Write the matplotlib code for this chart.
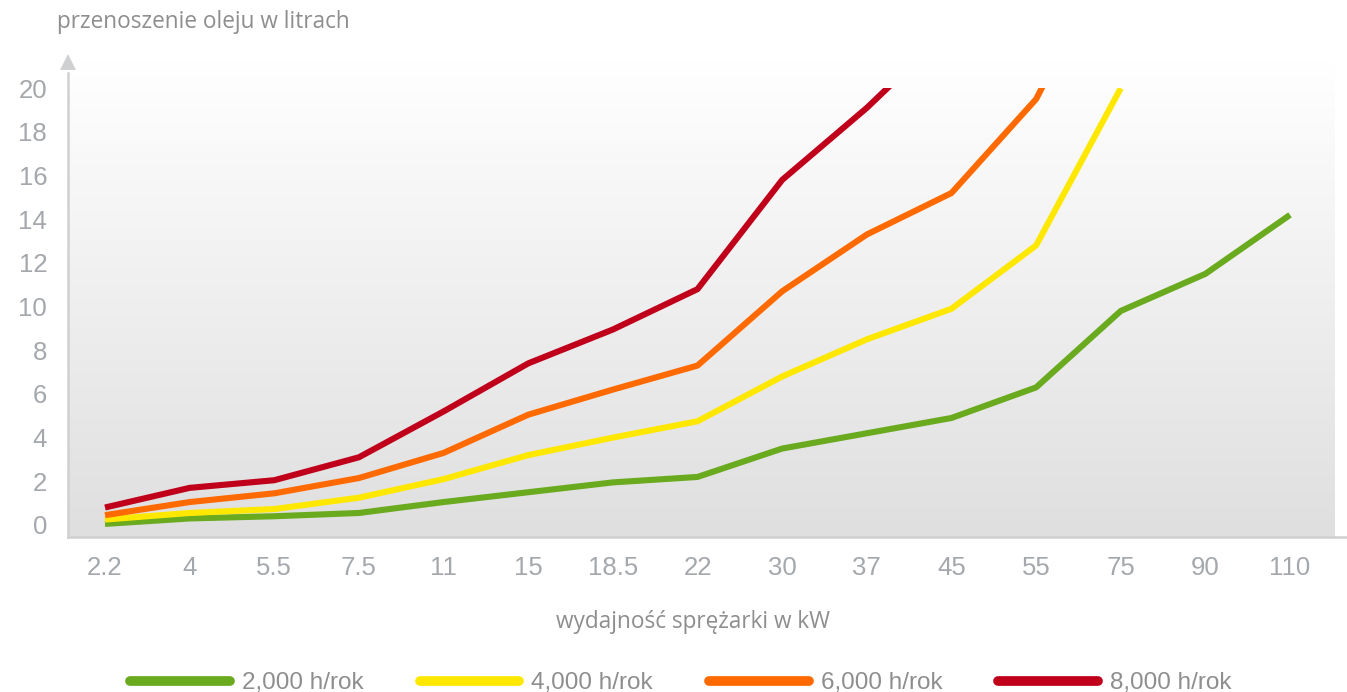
"""Przenoszenie oleju vs moc sprężarki - odtworzenie wykresu."""

import numpy as np
import matplotlib

matplotlib.use("Agg")
import matplotlib.pyplot as plt
from matplotlib.colors import LinearSegmentedColormap
from matplotlib.lines import Line2D
from matplotlib.patches import Rectangle

# kategorie osi X (moc sprężarki w kW)
power_kw = ["2.2", "4", "5.5", "7.5", "11", "15", "18.5", "22", "30", "37", "45", "55", "75", "90", "110"]

# przenoszenie oleju w litrach dla każdej serii (wartości > 20 są ucinane na krawędzi wykresu)
oil_2000 = [0.05, 0.3, 0.4, 0.55, 1.05, 1.5, 1.95, 2.2, 3.5, 4.2, 4.9, 6.3, 9.8, 11.5, 14.2]
oil_4000 = [0.25, 0.55, 0.73, 1.25, 2.1, 3.2, 4.0, 4.75, 6.8, 8.5, 9.9, 12.8, 20.0]
oil_6000 = [0.45, 1.05, 1.45, 2.15, 3.3, 5.05, 6.2, 7.3, 10.7, 13.3, 15.2, 19.5, 27.0]
oil_8000 = [0.8, 1.7, 2.05, 3.1, 5.2, 7.4, 8.95, 10.8, 15.8, 19.1, 22.8]

series = [
    ("2,000 h/rok", oil_2000, "#6aaa1e"),
    ("4,000 h/rok", oil_4000, "#ffe800"),
    ("6,000 h/rok", oil_6000, "#ff6a00"),
    ("8,000 h/rok", oil_8000, "#c0001a"),
]

Y_MAX = 20
TXT = "#a4a8ac"
AXIS = "#cfd0d2"

fig = plt.figure(figsize=(13.47, 6.92), dpi=100)
ax = fig.add_axes([68 / 1347, 1 - 537 / 692, 1 - 68 / 1347, (537 - 62) / 692])

# tło: gradient od białego (góra) do jasnoszarego (dół)
grad = np.linspace(0, 1, 256).reshape(-1, 1)
cmap = LinearSegmentedColormap.from_list("bg", ["#ffffff", "#dfdfdf"])
ax.imshow(grad, cmap=cmap, aspect="auto", extent=[0, (1335 - 68) / (1347 - 68), 0, 1],
          transform=ax.transAxes, zorder=0, interpolation="bicubic")

clip = Rectangle((-5, -5), 40, Y_MAX + 5, transform=ax.transData)
for label, vals, color in series:
    x = np.arange(len(vals))
    ln, = ax.plot(x, vals, color=color, lw=4.4, solid_joinstyle="round",
                  solid_capstyle="butt", zorder=3, label=label)
    ln.set_clip_path(clip)

ax.set_xlim(-0.437, 14.673)
ax.set_ylim(-0.55, 21.2)

ax.set_xticks(range(len(power_kw)))
ax.set_xticklabels(power_kw)
ax.set_yticks(range(0, 21, 2))
ax.tick_params(axis="both", length=0, labelsize=18.5, labelcolor=TXT)
ax.tick_params(axis="x", pad=14)
ax.tick_params(axis="y", pad=15)
for lbl in ax.get_xticklabels() + ax.get_yticklabels():
    lbl.set_fontfamily("Liberation Sans")

for side in ("top", "right"):
    ax.spines[side].set_visible(False)
ax.spines["left"].set_color(AXIS)
ax.spines["left"].set_linewidth(1.8)
ax.spines["left"].set_bounds(-0.55, 20.7)
ax.spines["bottom"].set_color(AXIS)
ax.spines["bottom"].set_linewidth(1.8)

# strzałka na osi Y
ax.plot([0], [1], marker="^", markersize=11, color=AXIS, transform=ax.transAxes,
        clip_on=False, zorder=4, markeredgewidth=0)

ax.set_xlabel("wydajność sprężarki w kW", fontsize=16.3, color="#8e8e8e", family="Open Sans")
ax.xaxis.set_label_coords((693 - 68) / (1347 - 68), -(610 - 537) / (537 - 62))
fig.text(57 / 1347, 1 - 22 / 692, "przenoszenie oleju w litrach", fontsize=16.3,
         color="#8e8e8e", family="Open Sans", va="center", ha="left")

handles = [Line2D([], [], color=c, lw=7, solid_capstyle="round") for _, _, c in series]
leg = fig.legend(handles, [s[0] for s in series], loc="center", ncol=4,
                 bbox_to_anchor=(681 / 1347, 1 - 683 / 692), frameon=False,
                 handlelength=4.1, handletextpad=0.5, columnspacing=2.3,
                 prop={"family": "Liberation Sans", "size": 17.5})
for t in leg.get_texts():
    t.set_color("#8e8e8e")

fig.savefig("out.png", dpi=100)
